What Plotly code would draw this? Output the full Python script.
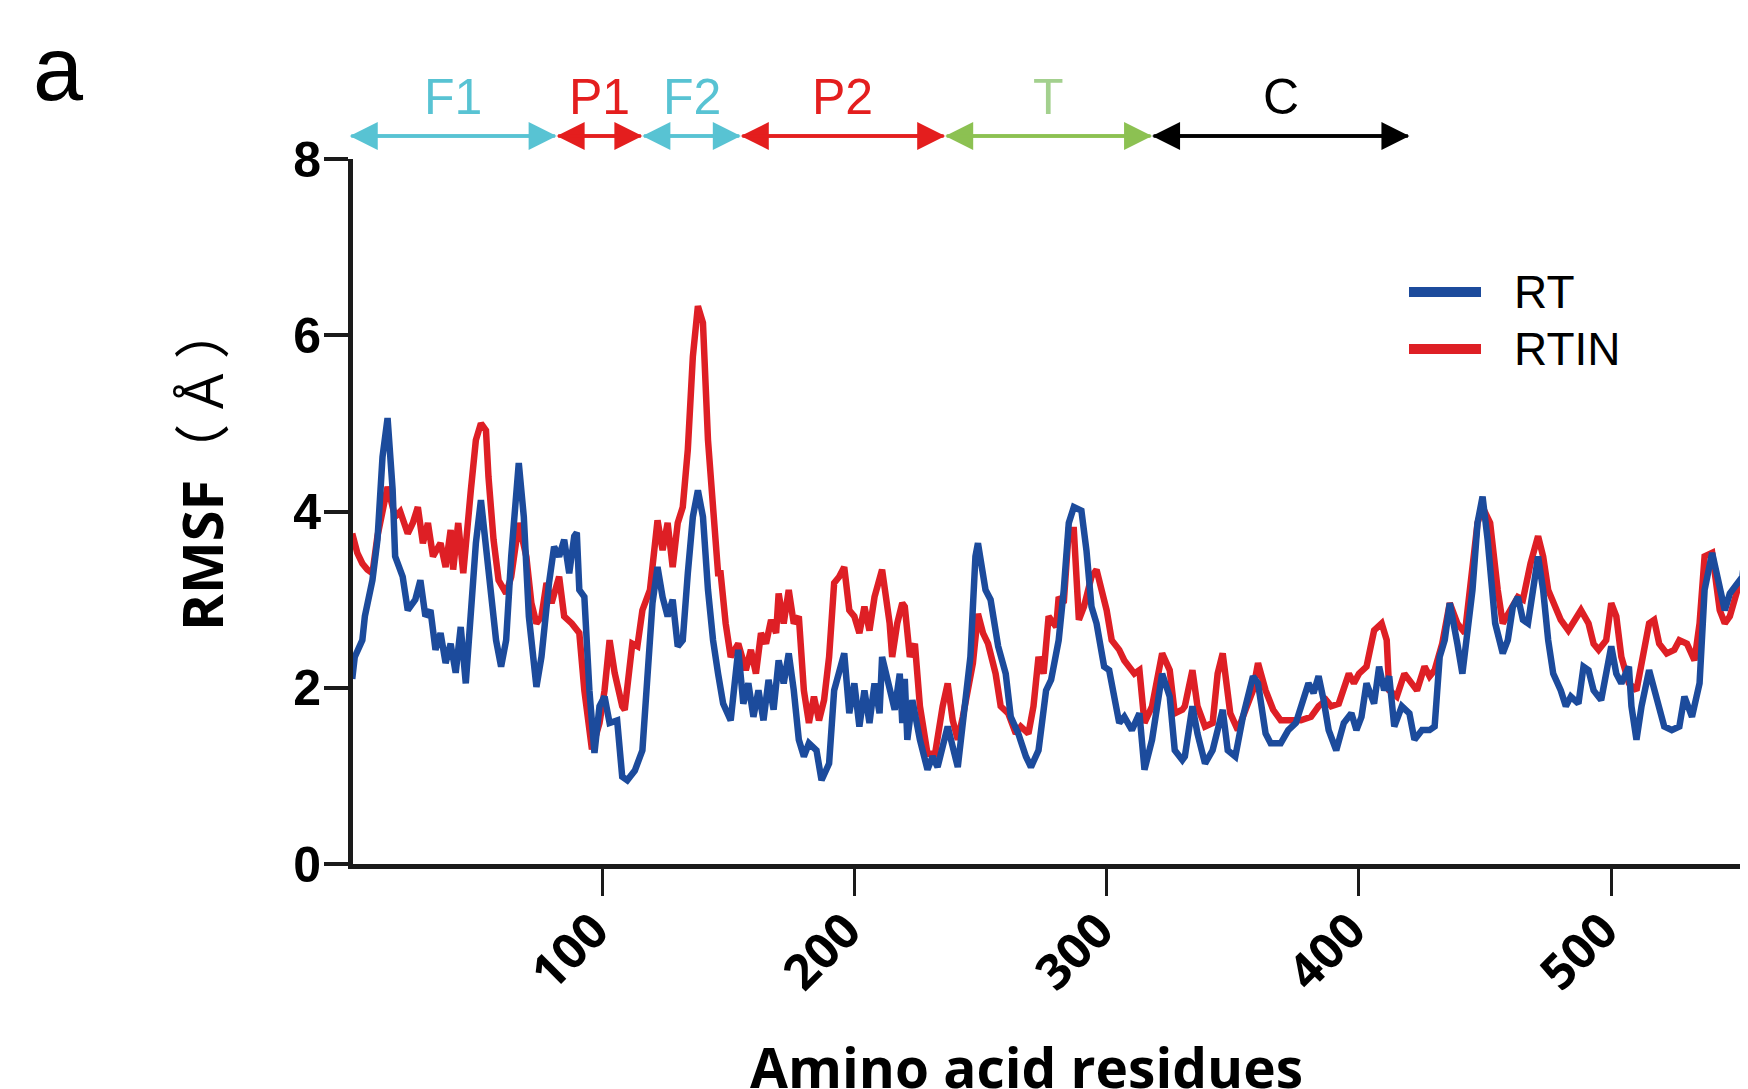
import plotly.graph_objects as go

# ---------------- data ----------------
residue_rt = [1, 2, 5, 6, 9, 11, 13, 15, 17, 18, 21, 23, 26, 28, 30, 32, 34, 36, 38, 40,
              42, 44, 46, 48, 50, 52, 54, 56, 58, 60, 62, 64, 67, 69, 71, 74, 76, 79, 81, 83,
              85, 87, 89, 90, 91, 93, 95, 97, 99, 101, 103, 106, 108, 110, 113, 116, 118, 120, 122, 124,
              126, 128, 130, 132, 134, 136, 138, 140, 142, 144, 146, 148, 151, 153, 154, 156, 158, 160, 162, 164,
              166, 168, 170, 172, 174, 176, 178, 180, 182, 185, 187, 190, 192, 196, 198, 200, 202, 204, 206, 208,
              210, 211, 214, 216, 218, 219, 220, 221, 223, 226, 229, 231, 233, 237, 241, 243, 246, 248, 249, 252,
              254, 257, 260, 262, 265, 268, 270, 273, 276, 278, 281, 283, 285, 287, 290, 292, 294, 296, 299, 301,
              303, 305, 307, 310, 313, 315, 318, 322, 325, 327, 330, 331, 334, 336, 339, 342, 346, 348, 351, 354,
              358, 360, 363, 365, 369, 372, 375, 377, 380, 382, 384, 386, 388, 391, 394, 397, 399, 401, 403, 406,
              408, 410, 412, 414, 417, 420, 422, 425, 428, 430, 432, 434, 436, 439, 441, 445, 447, 449, 451, 454,
              457, 459, 461, 463, 465, 467, 469, 471, 473, 475, 477, 480, 482, 484, 487, 489, 491, 493, 496, 498,
              500, 502, 504, 507, 508, 510, 512, 515, 517, 519, 521, 524, 527, 529, 532, 535, 537, 540, 543, 545,
              547, 550, 552, 554, 556]
rmsf_rt = [2.10, 2.35, 2.54, 2.81, 3.22, 3.68, 4.62, 5.06, 4.25, 3.49, 3.26, 2.88, 3.00, 3.22, 2.81, 2.88, 2.43, 2.62, 2.28, 2.50,
           2.17, 2.69, 2.05, 2.92, 3.64, 4.13, 3.64, 3.11, 2.54, 2.24, 2.54, 3.49, 4.55, 3.94, 2.81, 2.01, 2.35, 3.19, 3.60, 3.49,
           3.68, 3.30, 3.72, 3.76, 3.11, 3.03, 1.97, 1.26, 1.79, 1.90, 1.60, 1.63, 0.99, 0.95, 1.06, 1.29, 2.16, 2.96, 3.37, 3.03,
           2.81, 3.00, 2.47, 2.54, 3.30, 3.94, 4.24, 3.94, 3.11, 2.54, 2.16, 1.82, 1.63, 2.28, 2.43, 1.82, 2.05, 1.67, 1.97, 1.63,
           2.09, 1.75, 2.31, 2.05, 2.39, 1.97, 1.41, 1.22, 1.37, 1.29, 0.95, 1.14, 1.97, 2.39, 1.71, 2.05, 1.56, 1.97, 1.60, 2.05,
           1.71, 2.35, 1.97, 1.75, 2.16, 1.60, 2.10, 1.41, 1.86, 1.41, 1.07, 1.22, 1.10, 1.56, 1.10, 1.56, 2.35, 3.49, 3.64, 3.11,
           3.00, 2.47, 2.16, 1.67, 1.48, 1.22, 1.10, 1.29, 1.97, 2.09, 2.54, 3.11, 3.87, 4.05, 4.01, 3.56, 2.92, 2.73, 2.24, 2.20,
           1.86, 1.60, 1.67, 1.52, 1.71, 1.07, 1.41, 2.16, 1.90, 1.29, 1.18, 1.22, 1.79, 1.48, 1.14, 1.29, 1.75, 1.29, 1.22, 1.67,
           2.13, 2.05, 1.48, 1.37, 1.37, 1.52, 1.60, 1.79, 2.05, 1.94, 2.13, 1.86, 1.52, 1.29, 1.60, 1.71, 1.52, 1.67, 2.05, 1.82,
           2.24, 1.97, 2.13, 1.56, 1.79, 1.71, 1.41, 1.52, 1.52, 1.56, 2.35, 2.54, 2.96, 2.50, 2.16, 3.11, 3.87, 4.17, 3.68, 2.73,
           2.39, 2.54, 2.92, 3.03, 2.77, 2.73, 3.11, 3.49, 3.11, 2.54, 2.16, 1.97, 1.79, 1.90, 1.82, 2.24, 2.20, 1.97, 1.86, 2.16,
           2.47, 2.16, 2.05, 2.24, 1.79, 1.41, 1.79, 2.20, 1.97, 1.79, 1.56, 1.52, 1.56, 1.90, 1.67, 2.05, 3.11, 3.53, 3.11, 2.88,
           3.07, 3.19, 3.26, 3.79, 3.90]

residue_rtin = [1, 3, 5, 7, 9, 11, 15, 18, 20, 23, 25, 27, 29, 31, 33, 36, 38, 40, 41, 43,
                45, 46, 48, 50, 52, 54, 55, 57, 59, 62, 64, 67, 70, 72, 74, 76, 78, 80, 83, 85,
                88, 91, 93, 96, 99, 101, 103, 105, 108, 109, 112, 114, 116, 119, 122, 124, 126, 128, 130, 132,
                134, 136, 138, 140, 142, 144, 146, 147, 149, 151, 154, 157, 159, 161, 163, 165, 167, 169, 170, 172,
                174, 176, 178, 180, 182, 184, 186, 188, 190, 192, 194, 196, 198, 200, 202, 204, 206, 208, 211, 214,
                215, 217, 219, 220, 222, 224, 226, 229, 232, 235, 237, 239, 241, 243, 247, 249, 251, 253, 256, 258,
                261, 264, 266, 269, 271, 273, 275, 277, 280, 281, 283, 285, 287, 289, 291, 294, 296, 298, 300, 302,
                305, 307, 309, 311, 313, 315, 318, 322, 325, 327, 330, 331, 334, 336, 339, 342, 344, 346, 349, 352,
                354, 358, 360, 363, 366, 369, 373, 377, 381, 384, 387, 389, 392, 396, 398, 400, 403, 406, 409, 411,
                412, 415, 418, 420, 423, 426, 428, 430, 433, 436, 439, 442, 445, 447, 449, 452, 455, 457, 460, 463,
                465, 468, 471, 473, 475, 478, 480, 483, 486, 488, 491, 493, 495, 498, 500, 502, 504, 507, 510, 512,
                515, 517, 519, 522, 525, 527, 530, 533, 535, 537, 540, 543, 545, 547, 550, 553, 556]
rmsf_rtin = [3.75, 3.53, 3.41, 3.34, 3.30, 3.72, 4.28, 3.94, 4.00, 3.75, 3.87, 4.05, 3.64, 3.87, 3.49, 3.64, 3.37, 3.79, 3.34, 3.87,
             3.30, 3.56, 4.24, 4.81, 5.00, 4.92, 4.39, 3.68, 3.22, 3.07, 3.26, 3.87, 3.49, 2.96, 2.73, 2.81, 3.19, 2.96, 3.26, 2.81,
             2.73, 2.62, 1.97, 1.30, 1.60, 1.97, 2.54, 2.17, 1.79, 1.75, 2.50, 2.47, 2.88, 3.11, 3.90, 3.56, 3.87, 3.37, 3.87, 4.05,
             4.70, 5.76, 6.33, 6.14, 4.81, 4.05, 3.30, 3.30, 2.73, 2.35, 2.50, 2.20, 2.43, 2.16, 2.62, 2.50, 2.77, 2.62, 3.07, 2.73,
             3.11, 2.73, 2.81, 1.97, 1.60, 1.90, 1.63, 1.86, 2.35, 3.19, 3.26, 3.37, 2.88, 2.81, 2.62, 2.92, 2.65, 3.03, 3.34, 2.73,
             2.35, 2.73, 2.96, 2.92, 2.35, 2.50, 1.79, 1.25, 1.25, 1.79, 2.05, 1.63, 1.41, 1.67, 2.28, 2.84, 2.62, 2.50, 2.16, 1.79,
             1.71, 1.48, 1.56, 1.48, 1.79, 2.35, 2.16, 2.81, 2.69, 3.03, 2.96, 3.79, 3.79, 2.77, 2.92, 3.26, 3.34, 3.11, 2.88, 2.54,
             2.43, 2.31, 2.24, 2.16, 2.20, 1.60, 1.79, 2.39, 2.20, 1.71, 1.75, 1.79, 2.20, 1.79, 1.56, 1.60, 2.16, 2.39, 1.71, 1.52,
             1.67, 1.97, 2.28, 1.97, 1.75, 1.63, 1.63, 1.63, 1.67, 1.79, 1.86, 1.79, 1.82, 2.16, 2.05, 2.16, 2.24, 2.65, 2.73, 2.54,
             1.97, 1.90, 2.16, 2.09, 1.97, 2.24, 2.13, 2.20, 2.50, 2.96, 2.73, 2.62, 3.30, 3.87, 4.05, 3.87, 3.11, 2.73, 2.88, 3.03,
             3.00, 3.41, 3.72, 3.49, 3.11, 2.88, 2.77, 2.65, 2.77, 2.88, 2.73, 2.50, 2.43, 2.54, 2.96, 2.81, 2.35, 2.05, 1.97, 2.24,
             2.73, 2.77, 2.50, 2.39, 2.43, 2.54, 2.50, 2.31, 2.73, 3.49, 3.53, 2.88, 2.73, 2.81, 3.11, 3.22, 3.30]

domain_names = ["F1", "P1", "F2", "P2", "T", "C"]
domain_bounds = [0, 82, 116, 155, 236, 318, 420]
domain_arrow_colors = ["#58C3D3", "#E41E1E", "#58C3D3", "#E41E1E", "#8CC152", "#000000"]
domain_text_colors = ["#58C3D3", "#E41E1E", "#58C3D3", "#E41E1E", "#A3D08E", "#000000"]

series_names = ["RT", "RTIN"]
series_colors = ["#1C4B9C", "#DE1F25"]

x_ticks = [100, 200, 300, 400, 500]
y_ticks = [0, 2, 4, 6, 8]
x_range = [1.3, 554.2]
y_range = [0, 8]

# ---------------- geometry helpers ----------------
# the page body adds an 8 px offset, so the figure is made 8 px smaller
OFF = 8
W, H = 1748 - OFF, 1089 - OFF
ML, MR, MT, MB = 353 - OFF, 0, 159 - OFF, 225
PW, PH = W - ML - MR, H - MT - MB


def px(X):  # page pixel x -> paper
    return (X - OFF - ML) / PW


def py(Y):  # page pixel y -> paper
    return (H - MB - (Y - OFF)) / PH


fig = go.Figure()
fig.add_trace(go.Scatter(x=residue_rtin, y=rmsf_rtin, mode="lines", name=series_names[1],
                         line=dict(color=series_colors[1], width=6.5), showlegend=False))
fig.add_trace(go.Scatter(x=residue_rt, y=rmsf_rt, mode="lines", name=series_names[0],
                         line=dict(color=series_colors[0], width=6.5), showlegend=False))

annotations = []
# domain arrows (double headed: two full-length arrows in opposite directions)
arrow_y = py(136)
label_y = py(97)
for i, name in enumerate(domain_names):
    x0, x1 = domain_bounds[i], domain_bounds[i + 1]
    mid = (x0 + x1) / 2
    for head, tail in ((x0, x1), (x1, x0)):
        annotations.append(dict(x=head, y=arrow_y, xref="x", yref="paper",
                                ax=tail, ay=0, axref="x", ayref="pixel",
                                text="", showarrow=True, arrowhead=2, arrowsize=1.6,
                                arrowwidth=3.5, arrowcolor=domain_arrow_colors[i], standoff=0,
                                startstandoff=0))
    annotations.append(dict(x=mid, y=label_y, xref="x", yref="paper", text=name,
                            showarrow=False, xanchor="center", yanchor="middle",
                            font=dict(family="Liberation Sans, Arial", size=50,
                                      color=domain_text_colors[i])))

# custom legend
legend_rows_y = [292, 349]
shapes = []
for i, nm in enumerate(series_names):
    yy = py(legend_rows_y[i])
    shapes.append(dict(type="line", xref="paper", yref="paper", x0=px(1409), x1=px(1481),
                       y0=yy, y1=yy, line=dict(color=series_colors[i], width=10)))
    annotations.append(dict(x=px(1512), y=yy, xref="paper", yref="paper", text=nm,
                            showarrow=False, xanchor="left", yanchor="middle",
                            font=dict(family="Liberation Sans, Arial", size=46, color="#000000")))

# axis titles and panel label
annotations.append(dict(x=px(1026), y=py(1066), xref="paper", yref="paper",
                        text="Amino acid residues", showarrow=False,
                        xanchor="center", yanchor="middle",
                        font=dict(family="Open Sans", size=55, color="#000000", weight="bold")))
annotations.append(dict(x=px(201), y=py(467), xref="paper", yref="paper",
                        text="<b>RMSF</b>（ Å ）", showarrow=False, textangle=-90,
                        xanchor="center", yanchor="middle",
                        font=dict(family="Open Sans, Noto Sans CJK SC", size=56, color="#000000")))
annotations.append(dict(x=px(58), y=py(69), xref="paper", yref="paper",
                        text="a", showarrow=False, xanchor="center", yanchor="middle",
                        font=dict(family="Liberation Sans, Arial", size=90, color="#000000")))

fig.update_layout(
    width=W, height=H, autosize=False,
    margin=dict(l=ML, r=MR, t=MT, b=MB, pad=0),
    paper_bgcolor="white", plot_bgcolor="white",
    showlegend=False,
    annotations=annotations, shapes=shapes,
    xaxis=dict(range=x_range, tickmode="array", tickvals=x_ticks,
               ticktext=[str(v) for v in x_ticks], tickangle=-45,
               showline=True, linecolor="#1a1a1a", linewidth=5,
               ticks="outside", ticklen=27, tickwidth=3, tickcolor="#1a1a1a",
               showgrid=False, zeroline=False, ticklabelstandoff=-14, ticklabelshift=-8,
               tickfont=dict(family="Open Sans", size=49, color="#000000", weight="bold")),
    yaxis=dict(range=y_range, tickmode="array", tickvals=y_ticks,
               ticktext=[str(v) for v in y_ticks],
               showline=True, linecolor="#1a1a1a", linewidth=5,
               ticks="outside", ticklen=24, tickwidth=4, tickcolor="#1a1a1a",
               showgrid=False, zeroline=False, ticklabelstandoff=-7,
               tickfont=dict(family="Liberation Sans, Arial", size=50, color="#000000", weight="bold")),
)

fig.write_html("out.html")
